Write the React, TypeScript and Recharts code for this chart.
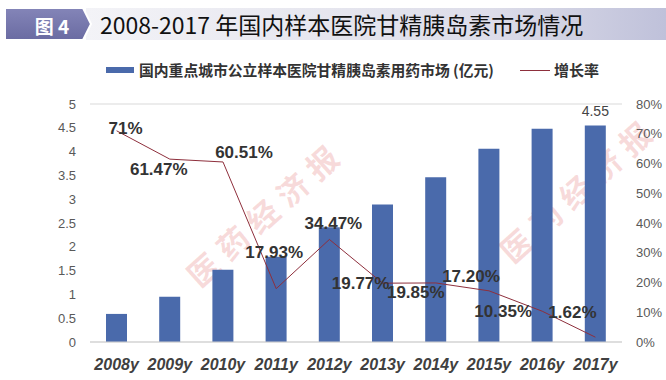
import { ComposedChart, Bar, Line, XAxis, YAxis, CartesianGrid, LabelList } from 'recharts'

const years = ['2008y', '2009y', '2010y', '2011y', '2012y', '2013y', '2014y', '2015y', '2016y', '2017y']
const marketSize = [0.59, 0.95, 1.52, 1.79, 2.41, 2.89, 3.46, 4.06, 4.48, 4.55]
const growthRate = [71, 61.47, 60.51, 17.93, 34.47, 19.77, 19.85, 17.2, 10.35, 1.62]
const growthLabels = ['71%', '61.47%', '60.51%', '17.93%', '34.47%', '19.77%', '19.85%', '17.20%', '10.35%', '1.62%']
const leftTicks = [0, 0.5, 1, 1.5, 2, 2.5, 3, 3.5, 4, 4.5, 5]
const rightTicks = [0, 10, 20, 30, 40, 50, 60, 70, 80]

const data = years.map((year, i) => ({ year, market: marketSize[i], growth: growthRate[i] }))

// label nudges so the % labels sit where the original put them
const labelNudge: [number, number][] = [
  [9, -2], [-11, 10], [21, -9], [-2, -36], [4, -16],
  [-22, 0], [-20, 10], [-18, -14], [-39, 0], [-23, -25],
]

const sans = '"Liberation Sans", Arial, sans-serif'
const cjk = '"Noto Sans CJK SC", "Noto Sans", sans-serif'

const renderGrowthLabel = (props: any) => {
  const { x, y, index } = props
  const [dx, dy] = labelNudge[index] || [0, -12]
  return (
    <text
      x={x + dx}
      y={y + dy}
      textAnchor="middle"
      dominantBaseline="central"
      fontFamily={sans}
      fontWeight="bold"
      fontSize={17}
      fill="#333"
    >
      {growthLabels[index]}
    </text>
  )
}

const renderMarketLabel = (props: any) => {
  const { x, y, width, index, value } = props
  if (index !== marketSize.length - 1) return null
  return (
    <text x={x + width / 2} y={y - 9} textAnchor="middle" fontFamily={sans} fontSize={14} fill="#444">
      {value}
    </text>
  )
}

function Watermark({ cx, cy }: { cx: number; cy: number }) {
  return (
    <text
      x={cx}
      y={cy}
      textAnchor="middle"
      dominantBaseline="central"
      transform={`rotate(-42 ${cx} ${cy})`}
      fontFamily={cjk}
      fontWeight="bold"
      fontSize={31}
      letterSpacing={9}
      fill="rgba(226, 110, 110, 0.25)"
    >
      医药经济报
    </text>
  )
}

export default function App() {
  return (
    <div style={{ position: 'absolute', left: 0, top: 0, width: 666, height: 380, background: '#fff', overflow: 'hidden' }}>
      {/* title banner */}
      <svg width={666} height={50} style={{ position: 'absolute', left: 0, top: 0 }}>
        <defs>
          <linearGradient id="band" x1="0" x2="1" y1="0" y2="0">
            <stop offset="0%" stopColor="#f3f3f7" />
            <stop offset="70%" stopColor="#dddde9" />
            <stop offset="100%" stopColor="#bfc1da" />
          </linearGradient>
          <linearGradient id="tag" x1="0" x2="0" y1="0" y2="1">
            <stop offset="0%" stopColor="#8485b8" />
            <stop offset="100%" stopColor="#6a6ba2" />
          </linearGradient>
        </defs>
        <rect x={86} y={8} width={580} height={32} fill="url(#band)" />
        <polygon points="5,8 83,8 91,24 83,40 5,40" fill="url(#tag)" stroke="#fff" strokeWidth={2} />
        <text x={52} y={25} textAnchor="middle" dominantBaseline="central" fontFamily={cjk} fontWeight="bold" fontSize={19} fill="#fff">
          图 4
        </text>
        <text x={100} y={24} dominantBaseline="central" fontFamily={cjk} fontSize={23} fill="#111">
          2008-2017 年国内样本医院甘精胰岛素市场情况
        </text>
      </svg>

      {/* legend */}
      <div style={{ position: 'absolute', left: 106, top: 67, width: 28, height: 6, background: '#4a6aab' }} />
      <div style={{ position: 'absolute', left: 139, top: 59, fontFamily: cjk, fontWeight: 'bold', fontSize: 14.8, color: '#333', whiteSpace: 'nowrap' }}>
        国内重点城市公立样本医院甘精胰岛素用药市场 (亿元)
      </div>
      <div style={{ position: 'absolute', left: 520, top: 70, width: 30, height: 1, background: '#8e2f3c' }} />
      <div style={{ position: 'absolute', left: 554, top: 59, fontFamily: cjk, fontWeight: 'bold', fontSize: 15, color: '#333', whiteSpace: 'nowrap' }}>
        增长率
      </div>

      <svg width={666} height={380} style={{ position: 'absolute', left: 0, top: 0 }}>
        <Watermark cx={265} cy={212} />
        <Watermark cx={578} cy={188} />
      </svg>

      <div style={{ position: 'absolute', left: 0, top: 0 }}>
        <ComposedChart width={666} height={380} data={data} margin={{ top: 104, right: 0, bottom: 0, left: 0 }}>
          <CartesianGrid vertical={false} stroke="#d9d9d9" />
          <XAxis
            dataKey="year"
            height={38}
            axisLine={{ stroke: '#d0d0d0' }}
            tickLine={false}
            tickMargin={11}
            tick={{ fontFamily: sans, fontSize: 16, fontStyle: 'italic', fontWeight: 'bold', fill: '#404040' }}
            interval={0}
          />
          <YAxis
            yAxisId="left"
            width={90}
            domain={[0, 5]}
            ticks={leftTicks}
            axisLine={false}
            tickLine={false}
            tickSize={0}
            tickMargin={14}
            tick={{ fontFamily: sans, fontSize: 13, fill: '#595959' }}
            interval={0}
          />
          <YAxis
            yAxisId="right"
            orientation="right"
            width={44}
            domain={[0, 80]}
            ticks={rightTicks}
            tickFormatter={(v: number) => `${v}%`}
            axisLine={false}
            tickLine={false}
            tickSize={0}
            tickMargin={14}
            tick={{ fontFamily: sans, fontSize: 13, fill: '#595959' }}
            interval={0}
          />
          <Bar yAxisId="left" dataKey="market" fill="#4a6aab" barSize={21} isAnimationActive={false}>
            <LabelList dataKey="market" content={renderMarketLabel} />
          </Bar>
          <Line
            yAxisId="right"
            dataKey="growth"
            stroke="#8e2f3c"
            strokeWidth={1}
            dot={false}
            type="linear"
            isAnimationActive={false}
          >
            <LabelList dataKey="growth" content={renderGrowthLabel} />
          </Line>
        </ComposedChart>
      </div>
    </div>
  )
}
